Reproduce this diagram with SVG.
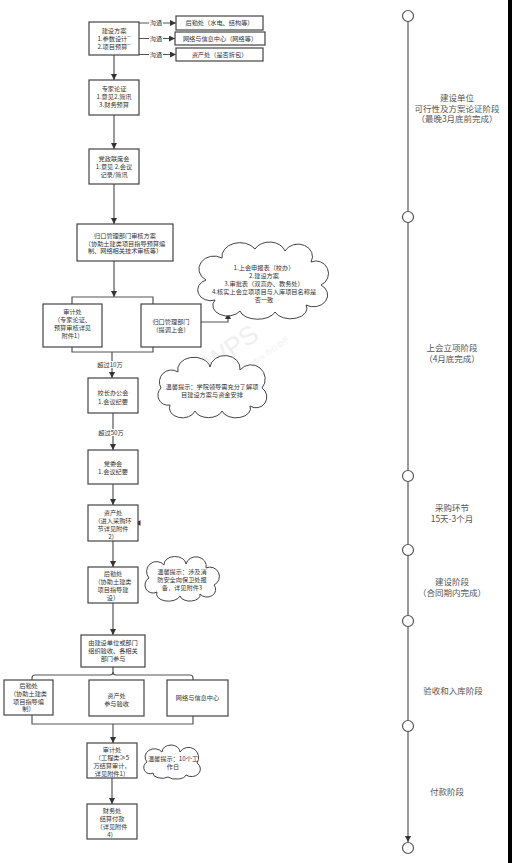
<svg xmlns="http://www.w3.org/2000/svg" width="512" height="863" viewBox="0 0 512 863">
<style>
.box{fill:#fff;stroke:#444;stroke-width:1.2}
.t{font-family:"Noto Sans CJK SC","Noto Sans",sans-serif;font-size:6.2px;fill:#333;text-anchor:middle}
.ln{stroke:#555;stroke-width:1.2;fill:none}
.cloud{fill:#fff;stroke:#444;stroke-width:1}
.tl{font-family:"Noto Sans CJK SC","Noto Sans",sans-serif;font-size:8.5px;fill:#555;text-anchor:middle}
.lab{fill:#fff}
.circ{fill:#fff;stroke:#555;stroke-width:1.2}
.wm{font-family:"Liberation Sans",sans-serif;fill:#efefef}
</style>
<defs>
<marker id="ah" viewBox="0 0 10 10" refX="10" refY="5" markerWidth="6" markerHeight="6" markerUnits="userSpaceOnUse" orient="auto"><path d="M0,0 L10,5 L0,10 Z" fill="#333"/></marker>
</defs>
<rect width="512" height="863" fill="#fff"/>
<rect x="508" y="0" width="4" height="863" fill="#000"/>

<g id="watermark">
<text class="wm" x="0" y="0" font-size="26" transform="translate(212,372) rotate(-35)">WPS</text>
<text class="wm" x="0" y="0" font-size="7" transform="translate(236,378) rotate(-35)">WPS Office 办公助手</text>
</g>

<g id="connectors">
<path class="ln" d="M139,23 H176" marker-end="url(#ah)"/>
<path class="ln" d="M139,38.5 H175" marker-end="url(#ah)"/>
<path class="ln" d="M139,54.5 H176" marker-end="url(#ah)"/>
<rect class="lab" x="149" y="19" width="14" height="8"/>
<rect class="lab" x="149" y="34.5" width="14" height="8"/>
<rect class="lab" x="149" y="50.5" width="14" height="8"/>
<text class="t" x="156" y="25.2">沟通</text>
<text class="t" x="156" y="40.7">沟通</text>
<text class="t" x="156" y="56.7">沟通</text>
<path class="ln" d="M114,55 V80" marker-end="url(#ah)"/>
<path class="ln" d="M114,115 V149" marker-end="url(#ah)"/>
<path class="ln" d="M114,184 V224" marker-end="url(#ah)"/>
<path class="ln" d="M114,261 V297" marker-end="url(#ah)"/>
<path class="ln" d="M72,304 V297 H153 V304"/>
<path class="ln" d="M201,322 H228 V313" marker-end="url(#ah)"/>
<path class="ln" d="M72,347 V352 H153 V347"/>
<path class="ln" d="M112,352 V378" marker-end="url(#ah)"/>
<rect class="lab" x="98" y="361" width="25" height="7"/>
<text class="t" x="110" y="366.5">超过10万</text>
<path class="ln" d="M113,413 V450" marker-end="url(#ah)"/>
<rect class="lab" x="99" y="429" width="25" height="7"/>
<text class="t" x="111" y="434.5">超过50万</text>
<path class="ln" d="M113,484 V505" marker-end="url(#ah)"/>
<path class="ln" d="M113,541 V567" marker-end="url(#ah)"/>
<path class="ln" d="M113,603 V635" marker-end="url(#ah)"/>
<path class="ln" d="M32,681 V678 Q32,675 35,675 H110 Q113,675 113,672 V667"/>
<path class="ln" d="M113,672 Q113,675 116,675 H190 Q193,675 193,678 V681"/>
<path class="ln" d="M32,714 V724 H193 V716"/>
<path class="ln" d="M113,724 V743" marker-end="url(#ah)"/>
<path class="ln" d="M112,778 V804" marker-end="url(#ah)"/>
<polygon points="134.5,523 140.5,520.3 140.5,525.7" fill="#333"/>
</g>

<g id="n-jsfa">
<rect class="box" x="89" y="22" width="50" height="33"/>
<text class="t" x="114" y="33">建设方案</text>
<text class="t" x="114" y="41">1.参数设计<tspan font-size="3.5" dy="-2">**</tspan></text>
<text class="t" x="114" y="49">2.项目预算<tspan font-size="3.5" dy="-2">**</tspan></text>
</g>
<g id="n-hqc1">
<rect class="box" x="176" y="16" width="87" height="14"/>
<text class="t" x="219.5" y="25.2">后勤处（水电、结构等）</text>
</g>
<g id="n-wl1">
<rect class="box" x="175" y="32" width="90" height="13"/>
<text class="t" x="220" y="40.7">网络与信息中心（网络等）</text>
</g>
<g id="n-zcc1">
<rect class="box" x="176" y="48" width="87" height="13"/>
<text class="t" x="219.5" y="56.7">资产处（是否拆包）</text>
</g>
<g id="n-zjlz">
<rect class="box" x="89" y="80" width="50" height="35"/>
<text class="t" x="114" y="91">专家论证</text>
<text class="t" x="114" y="99">1.意见2.简讯</text>
<text class="t" x="114" y="107">3.财务预算</text>
</g>
<g id="n-dzlxh">
<rect class="box" x="89" y="149" width="50" height="35"/>
<text class="t" x="114" y="161">党政联席会</text>
<text class="t" x="114" y="169">1.意见 2.会议</text>
<text class="t" x="114" y="177">记录/简讯</text>
</g>
<g id="n-gkbm">
<rect class="box" x="77" y="224" width="96" height="37"/>
<text class="t" x="125" y="238">归口管理部门审核方案</text>
<text class="t" x="125" y="245.5">（协助土建类项目指导预算编</text>
<text class="t" x="125" y="253">制、网络相关技术审核等）</text>
</g>
<g id="n-sjc1">
<rect class="box" x="43" y="304" width="59" height="43"/>
<text class="t" x="72.5" y="314">审计处</text>
<text class="t" x="72.5" y="322">（专家论证、</text>
<text class="t" x="72.5" y="330">预算审核详见</text>
<text class="t" x="72.5" y="338">附件1）</text>
</g>
<g id="n-gkbm2">
<rect class="box" x="141" y="304" width="60" height="43"/>
<text class="t" x="171" y="324">归口管理部门</text>
<text class="t" x="171" y="332">（提调上会）</text>
</g>
<g id="n-cloud1">
<path class="cloud" d="M215,300 A12,10 0 0 1 206,280 A14,12 0 0 1 222,258 A18,14 0 0 1 255,249 A16,12 0 0 1 285,251 A14,12 0 0 1 311,262 A12,12 0 0 1 321,285 A12,10 0 0 1 306,305 A16,10 0 0 1 275,312 A18,10 0 0 1 240,311 A14,10 0 0 1 215,300 Z"/>
<text class="t" x="264" y="270">1.上会申报表（校办）</text>
<text class="t" x="264" y="278">2.建设方案</text>
<text class="t" x="264" y="286">3.审批表（双高办、教务处）</text>
<text class="t" x="264" y="294">4.核实上会立项项目与入库项目名称是</text>
<text class="t" x="264" y="302">否一致</text>
</g>
<g id="n-xzbgh">
<rect class="box" x="88" y="378" width="50" height="35"/>
<text class="t" x="113" y="395">校长办公会</text>
<text class="t" x="113" y="404">1.会议纪要</text>
</g>
<g id="n-cloud2">
<path class="cloud" d="M170,405 A10,10 0 0 1 161,388 A12,12 0 0 1 178,372 A16,12 0 0 1 210,367 A14,12 0 0 1 240,370 A12,12 0 0 1 262,388 A10,10 0 0 1 250,406 A14,9 0 0 1 222,411 A14,9 0 0 1 195,411 A12,9 0 0 1 170,405 Z"/>
<text class="t" x="212" y="388.5">温馨提示：学院领导需充分了解项</text>
<text class="t" x="212" y="396.5">目建设方案与资金安排</text>
</g>
<g id="n-dwh">
<rect class="box" x="88" y="450" width="50" height="34"/>
<text class="t" x="113" y="466">党委会</text>
<text class="t" x="113" y="474">1.会议纪要</text>
</g>
<g id="n-zcc2">
<rect class="box" x="88" y="505" width="50" height="36"/>
<text class="t" x="113" y="515">资产处</text>
<text class="t" x="113" y="523">（进入采购环</text>
<text class="t" x="113" y="531">节详见附件</text>
<text class="t" x="113" y="539">2）</text>
</g>
<g id="n-hqc2">
<rect class="box" x="88" y="567" width="50" height="36"/>
<text class="t" x="113" y="576">后勤处</text>
<text class="t" x="113" y="584">（协助土建类</text>
<text class="t" x="113" y="592">项目指导建</text>
<text class="t" x="113" y="600">设）</text>
</g>
<g id="n-cloud3">
<path class="cloud" d="M157,592 A7,7 0 0 1 149,578 A9,9 0 0 1 164,565 A11,8 0 0 1 186,564 A10,9 0 0 1 206,568 A8,8 0 0 1 214,585 A8,7 0 0 1 200,594 A10,6 0 0 1 180,596 A10,6 0 0 1 157,592 Z"/>
<text class="t" x="182" y="574">温馨提示：涉及消</text>
<text class="t" x="182" y="582">防安全向保卫处报</text>
<text class="t" x="182" y="590">备，详见附件3</text>
</g>
<g id="n-ys">
<rect class="box" x="81" y="635" width="64" height="32"/>
<text class="t" x="113" y="645">由建设单位或部门</text>
<text class="t" x="113" y="653">组织验收、各相关</text>
<text class="t" x="113" y="661">部门参与</text>
</g>
<g id="n-hqc3">
<rect class="box" x="4" y="680" width="49" height="35"/>
<text class="t" x="28.5" y="688">后勤处</text>
<text class="t" x="28.5" y="695.8">（协助土建类</text>
<text class="t" x="28.5" y="703.6">项目指导编</text>
<text class="t" x="28.5" y="711.4">制）</text>
</g>
<g id="n-zcc3">
<rect class="box" x="89" y="680" width="55" height="36"/>
<text class="t" x="116.5" y="698">资产处</text>
<text class="t" x="116.5" y="706">参与验收</text>
</g>
<g id="n-wl2">
<rect class="box" x="167" y="680" width="61" height="36"/>
<text class="t" x="197.5" y="700">网络与信息中心</text>
</g>
<g id="n-sjc2">
<rect class="box" x="87" y="743" width="50" height="35"/>
<text class="t" x="112" y="751.5">审计处</text>
<text class="t" x="112" y="759.5">（工程类≥5</text>
<text class="t" x="112" y="767.5">万结算审计，</text>
<text class="t" x="112" y="775.5">详见附件1）</text>
</g>
<g id="n-cloud4">
<path class="cloud" d="M153,773 A6,6 0 0 1 147,762 A8,7 0 0 1 162,752 A9,7 0 0 1 180,752 A7,7 0 0 1 197,763 A7,6 0 0 1 186,775 A10,5 0 0 1 168,777 A9,5 0 0 1 153,773 Z"/>
<text class="t" x="173" y="761">温馨提示：10个工</text>
<text class="t" x="173" y="769">作日</text>
</g>
<g id="n-cwc">
<rect class="box" x="87" y="804" width="50" height="35"/>
<text class="t" x="112" y="813">财务处</text>
<text class="t" x="112" y="821">结算付款</text>
<text class="t" x="112" y="829">（详见附件</text>
<text class="t" x="112" y="837">4）</text>
</g>

<g id="timeline">
<path d="M408,16 V842" stroke="#777" stroke-width="1.5" fill="none" marker-end="url(#ah)"/>
<circle class="circ" cx="408" cy="16" r="5.5"/>
<circle class="circ" cx="408" cy="217" r="5.5"/>
<circle class="circ" cx="408" cy="476" r="5.5"/>
<circle class="circ" cx="408" cy="550" r="5.5"/>
<circle class="circ" cx="408" cy="621" r="5.5"/>
<circle class="circ" cx="408" cy="726" r="5.5"/>
<circle class="circ" cx="408" cy="848" r="5.5"/>
<text class="tl" x="457" y="101">建设单位</text>
<text class="tl" x="457" y="111.5">可行性及方案论证阶段</text>
<text class="tl" x="457" y="122">（最晚3月底前完成）</text>
<text class="tl" x="452" y="351">上会立项阶段</text>
<text class="tl" x="452" y="361.5">（4月底完成）</text>
<text class="tl" x="452" y="511">采购环节</text>
<text class="tl" x="452" y="521.5">15天-3个月</text>
<text class="tl" x="452" y="585">建设阶段</text>
<text class="tl" x="452" y="595.5">（合同期内完成）</text>
<text class="tl" x="453" y="694">验收和入库阶段</text>
<text class="tl" x="447" y="795">付款阶段</text>
</g>
</svg>
